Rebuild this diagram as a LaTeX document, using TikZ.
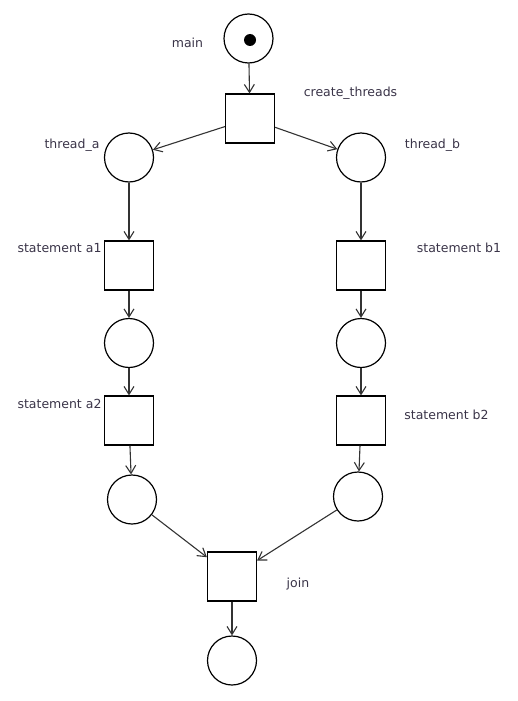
\documentclass[tikz,border=0pt]{standalone}
\usepackage{fontspec}
\setmainfont{DejaVu Sans}
\usetikzlibrary{arrows.meta}
\definecolor{lblc}{HTML}{3A3448}
\definecolor{edgec}{HTML}{333333}
\begin{document}
\begin{tikzpicture}[x=1pt,y=-1pt,
  place/.style={circle,draw=black,line width=1.2pt,minimum size=49pt,inner sep=0pt},
  trans/.style={rectangle,draw=black,line width=1.2pt,minimum size=49pt,inner sep=0pt},
  lbl/.style={text=lblc,font=\fontsize{12.5}{15}\selectfont,inner sep=0pt},
  arc/.style={draw=edgec,line width=1.1pt,-{Straight Barb[length=8pt,width=10pt]}},
  tok/.style={circle,fill=black,minimum size=12pt,inner sep=0pt}]
\useasboundingbox (0,0) rectangle (518,701);

% places and transitions
\node[place] (main) at (248.5,38.5) {};
\node[tok] (token) at (250,40) {};
\node[trans] (create) at (250,118.5) {};
\node[place] (ta) at (129,157.5) {};
\node[place] (tb) at (361,157.5) {};
\node[trans] (a1) at (129,265.5) {};
\node[trans] (b1) at (361,265.5) {};
\node[place] (pa) at (129,343) {};
\node[place] (pb) at (361,343) {};
\node[trans] (a2) at (129,420.5) {};
\node[trans] (b2) at (361,420.5) {};
\node[place] (qa) at (132,499.5) {};
\node[place] (qb) at (358,496.5) {};
\node[trans] (join) at (232,576.5) {};
\node[place] (done) at (232,660.5) {};

% labels
\node[lbl] (lmain) at (187.5,43) {main};
\node[lbl] (lcreate) at (350.5,93) {create\_threads};
\node[lbl] (lta) at (72,145) {thread\_a};
\node[lbl] (ltb) at (432.5,145) {thread\_b};
\node[lbl] (la1) at (59.5,248) {statement a1};
\node[lbl] (lb1) at (459,248) {statement b1};
\node[lbl] (la2) at (59.5,404) {statement a2};
\node[lbl] (lb2) at (446.5,415) {statement b2};
\node[lbl] (ljoin) at (298,584) {join};

% arcs
\draw[arc] (main) -- (create);
\draw[arc] (create) -- (ta);
\draw[arc] (create) -- (tb);
\draw[arc] (ta) -- (a1);
\draw[arc] (tb) -- (b1);
\draw[arc] (a1) -- (pa);
\draw[arc] (b1) -- (pb);
\draw[arc] (pa) -- (a2);
\draw[arc] (pb) -- (b2);
\draw[arc] (a2) -- (qa);
\draw[arc] (b2) -- (qb);
\draw[arc] (qa) -- (join);
\draw[arc] (qb) -- (join);
\draw[arc] (join) -- (done);
\end{tikzpicture}
\end{document}
